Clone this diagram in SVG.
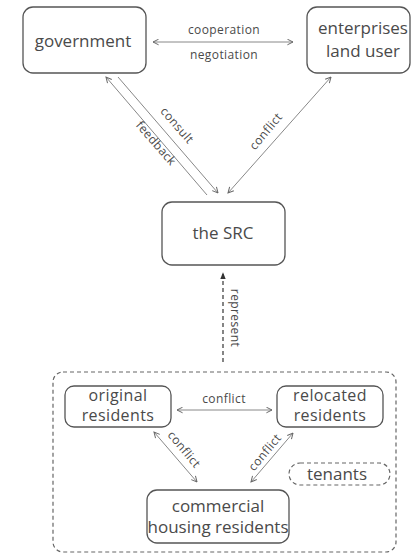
<svg xmlns="http://www.w3.org/2000/svg" width="412" height="556" viewBox="0 0 412 556">
<defs>
<style>
.box{fill:#fff;stroke:#555;stroke-width:1.3}
.dbox{fill:none;stroke:#666;stroke-width:1.2;stroke-dasharray:4 3}
.t{font-family:"Open Sans","DejaVu Sans",sans-serif;fill:#4a4a4a;text-anchor:middle}
.big{font-size:17px}
.mid{font-size:16px;letter-spacing:0.4px}
.sm{font-size:12px;letter-spacing:0.4px}
.ln{stroke:#888;stroke-width:1;fill:none}
.dl{stroke:#444;stroke-width:1.3;fill:none;stroke-dasharray:4 3}
</style>
<marker id="ah" viewBox="0 0 10 10" refX="9" refY="5" markerWidth="7" markerHeight="7" orient="auto-start-reverse" markerUnits="userSpaceOnUse">
<path d="M1,1 L9,5 L1,9" fill="none" stroke="#666" stroke-width="1.4"/>
</marker>
<marker id="ahf" viewBox="0 0 10 10" refX="9" refY="5" markerWidth="7" markerHeight="7" orient="auto" markerUnits="userSpaceOnUse">
<path d="M0,1 L10,5 L0,9 Z" fill="#333"/>
</marker>
</defs>
<g id="connectors">
<line class="ln" x1="153" y1="42" x2="293" y2="42" marker-start="url(#ah)" marker-end="url(#ah)"/>
<line class="ln" x1="207" y1="195" x2="106" y2="77" marker-end="url(#ah)"/>
<line class="ln" x1="118" y1="77" x2="218" y2="193" marker-end="url(#ah)"/>
<line class="ln" x1="228" y1="193" x2="331" y2="77" marker-start="url(#ah)" marker-end="url(#ah)"/>
<line class="dl" x1="223" y1="362" x2="223" y2="273" marker-end="url(#ahf)"/>
<line class="ln" x1="177" y1="410" x2="272" y2="410" marker-start="url(#ah)" marker-end="url(#ah)"/>
<line class="ln" x1="154" y1="432" x2="197" y2="482" marker-start="url(#ah)" marker-end="url(#ah)"/>
<line class="ln" x1="293" y1="433" x2="251" y2="482" marker-start="url(#ah)" marker-end="url(#ah)"/>
<text class="t sm" x="224" y="34">cooperation</text>
<text class="t sm" x="224" y="59">negotiation</text>
<text class="t sm" transform="translate(174,128) rotate(49)">consult</text>
<text class="t sm" transform="translate(153,146) rotate(49)">feedback</text>
<text class="t sm" transform="translate(269,134) rotate(-50)">conflict</text>
<text class="t sm" transform="translate(231,318) rotate(90)">represent</text>
<text class="t sm" x="224" y="403">conflict</text>
<text class="t sm" transform="translate(181,452) rotate(50)">conflict</text>
<text class="t sm" transform="translate(268,455) rotate(-50)">conflict</text>
</g>
<g id="group-residents">
<rect class="dbox" x="53" y="372" width="343" height="180" rx="10"/>
</g>
<g id="government">
<rect class="box" x="23" y="7" width="123" height="66" rx="10"/>
<text class="t big" x="83" y="47">government</text>
</g>
<g id="enterprises">
<rect class="box" x="307" y="7" width="103" height="66" rx="10"/>
<text class="t big" x="363" y="34">enterprises</text>
<text class="t big" x="363" y="57">land user</text>
</g>
<g id="src">
<rect class="box" x="162" y="202" width="123" height="63" rx="10"/>
<text class="t big" x="223" y="239">the SRC</text>
</g>
<g id="original">
<rect class="box" x="65" y="386" width="106" height="41" rx="9"/>
<text class="t mid" x="118" y="401">original</text>
<text class="t mid" x="118" y="421">residents</text>
</g>
<g id="relocated">
<rect class="box" x="277" y="386" width="106" height="41" rx="9"/>
<text class="t mid" x="330" y="401">relocated</text>
<text class="t mid" x="330" y="421">residents</text>
</g>
<g id="commercial">
<rect class="box" x="147" y="490" width="142" height="53" rx="10"/>
<text class="t big" x="218" y="512">commercial</text>
<text class="t big" x="218" y="533">housing residents</text>
</g>
<g id="tenants">
<rect class="dbox" x="289" y="463" width="101" height="22" rx="11"/>
<text class="t big" x="337" y="480">tenants</text>
</g>
</svg>
